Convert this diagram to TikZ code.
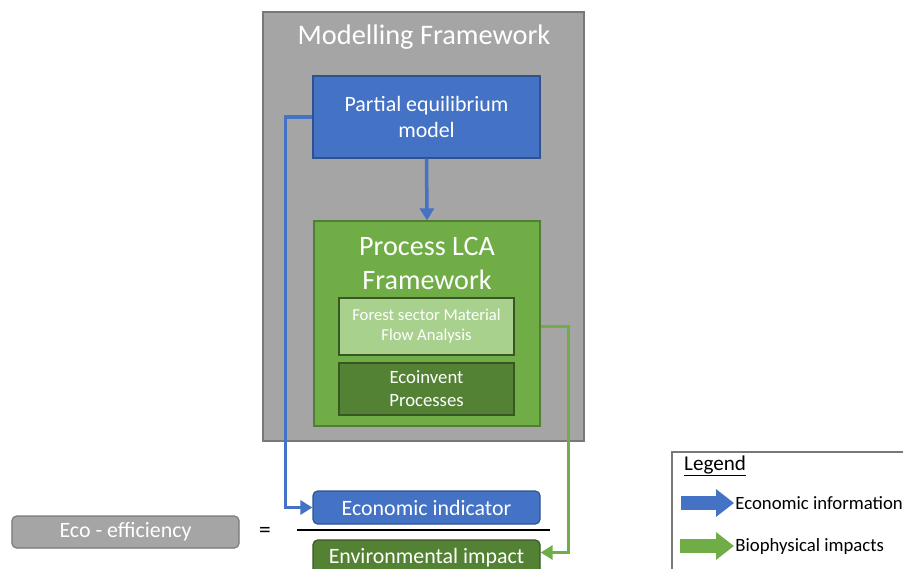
\documentclass[tikz,border=0pt]{standalone}
\usepackage{fontspec}
\setmainfont{Carlito}
\usepackage{tikz}
\usetikzlibrary{arrows.meta}
\usetikzlibrary{positioning}
\definecolor{peblue}{RGB}{68, 114, 196}
\definecolor{peblueline}{RGB}{47, 82, 143}
\definecolor{lcagreen}{RGB}{112, 173, 71}
\definecolor{lcagreenline}{RGB}{80, 126, 50}
\definecolor{mfagreen}{RGB}{169, 209, 142}
\definecolor{darkgreen}{RGB}{84, 130, 53}
\definecolor{darkgreenline}{RGB}{56, 87, 35}
\definecolor{framegray}{RGB}{165, 165, 165}
\definecolor{framegrayline}{RGB}{120, 120, 120}

\tikzset{
  box/.style={draw, line width=1pt, text=white, align=center, inner sep=0pt},
  roundbox/.style={box, rounded corners=4pt},
  econflow/.style={draw=peblue, line width=3pt, -{Triangle[length=0.36cm, width=0.42cm]}},
  bioflow/.style={draw=lcagreen, line width=3pt, -{Triangle[length=0.36cm, width=0.42cm]}},
  legendarrow/.style={line width=0.42cm, -{Triangle[length=0.54cm, width=0.8cm]}},
}

\begin{document}
\begin{tikzpicture}[x=0.03cm, y=-0.03cm]
            \clip (0,0) rectangle (903,569);
            \fill[white] (0,0) rectangle (903,569);
            % modelling framework
            \node[box, fill=framegray, draw=framegrayline, minimum width=9.63cm, minimum height=12.87cm] (frame) at (423.5,226.5) {};
            \node[text=white, font=\fontsize{24.2}{28}\selectfont] (frametitle) at (424,37.5) {Modelling Framework};
            \node[box, fill=peblue, draw=peblueline, minimum width=6.81cm, minimum height=2.46cm,
                  font=\fontsize{18.7}{22}\selectfont] (pem) at (426.5,117) {Partial equilibrium\\model};
            \node[box, fill=lcagreen, draw=lcagreenline, minimum width=6.78cm, minimum height=6.15cm] (lca) at (427,323.5) {};
            \node[text=white, align=center, font=\fontsize{24}{29}\selectfont] (lcatitle) at (427,263) {Process LCA\\Framework};
            \node[box, fill=mfagreen, draw=darkgreenline, minimum width=5.25cm, minimum height=1.71cm,
                  font=\fontsize{14.2}{17}\selectfont] (mfa) at (426.5,326.5) {Forest sector Material\\Flow Analysis};
            \node[box, fill=darkgreen, draw=darkgreenline, minimum width=5.25cm, minimum height=1.56cm,
                  font=\fontsize{16}{19.5}\selectfont] (ecoinvent) at (426.5,389) {Ecoinvent\\Processes};
            % eco-efficiency
            \node[roundbox, fill=framegray, draw=framegrayline, minimum width=6.81cm, minimum height=0.96cm,
                  font=\fontsize{18.7}{22}\selectfont] (effi) at (125.5,532) {Eco - efficiency};
            \node[font=\fontsize{20}{22}\selectfont] (equals) at (265,532) {=};
            \node[roundbox, fill=peblue, draw=peblueline, minimum width=6.81cm, minimum height=0.99cm,
                  font=\fontsize{18.7}{22}\selectfont] (econ) at (426.5,507.5) {Economic indicator};
            \node[roundbox, fill=darkgreen, draw=darkgreenline, minimum width=6.81cm, minimum height=1.05cm,
                  font=\fontsize{18.7}{22}\selectfont] (env) at (426.5,557.5) {Environmental impact};
            \coordinate (fracleft) at (297,530);
            \coordinate (fracright) at (550,530);
            \draw[line width=1pt] (fracleft) -- (fracright);
            % flows
            \draw[econflow] (pem.south) -- (lca.north);
            \draw[econflow] (pem.west) -- ++(-27,0) |- (econ.west);
            \draw[bioflow] (lca.east |- mfa.east) -- ++(28,0) |- ([yshift=0.15cm]env.east);
            % legend
            \draw[line width=1pt, draw=framegrayline] (672,452) rectangle (940,600);
            \node[anchor=west, font=\fontsize{18}{22}\selectfont] (legendtitle) at (680,466) {\underline{Legend}};
            \coordinate (econlegstart) at (681,503);
            \coordinate (econlegend) at (734,503);
            \coordinate (biolegstart) at (680,546);
            \coordinate (biolegend) at (734,546);
            \draw[legendarrow, draw=peblue, fill=peblue] (econlegstart) -- (econlegend);
            \draw[legendarrow, draw=lcagreen, fill=lcagreen] (biolegstart) -- (biolegend);
            \node[anchor=west, inner sep=1pt, font=\fontsize{16}{19}\selectfont] (econlegtext) at (econlegend) {Economic information};
            \node[anchor=west, inner sep=1pt, font=\fontsize{16}{19}\selectfont] (biolegtext) at (biolegend) {Biophysical impacts};
\end{tikzpicture}
\end{document}
